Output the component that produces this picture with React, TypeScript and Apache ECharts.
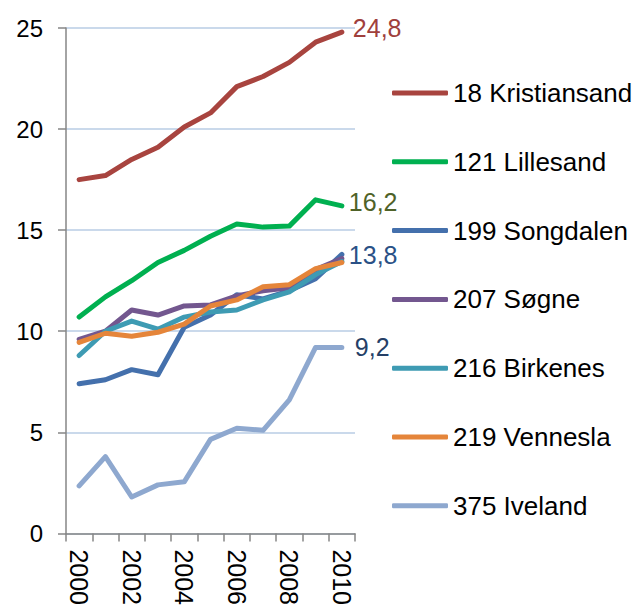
import React, { useEffect, useRef } from "react";
import * as echarts from "echarts";

const years = ["2000", "2001", "2002", "2003", "2004", "2005", "2006", "2007", "2008", "2009", "2010"];
const kristiansand = [17.5, 17.7, 18.5, 19.1, 20.1, 20.8, 22.1, 22.6, 23.3, 24.3, 24.8];
const lillesand = [10.7, 11.7, 12.5, 13.4, 14.0, 14.7, 15.3, 15.15, 15.2, 16.5, 16.2];
const songdalen = [7.4, 7.6, 8.1, 7.85, 10.2, 10.8, 11.8, 11.6, 12.0, 12.6, 13.8];
const sogne = [9.6, 10.0, 11.05, 10.8, 11.25, 11.3, 11.75, 12.0, 12.15, 13.05, 13.6];
const birkenes = [8.8, 10.0, 10.5, 10.1, 10.7, 10.95, 11.05, 11.55, 11.95, 12.8, 13.45];
const vennesla = [9.45, 9.9, 9.75, 9.95, 10.35, 11.25, 11.55, 12.2, 12.3, 13.1, 13.4];
const iveland = [2.35, 3.8, 1.8, 2.4, 2.55, 4.65, 5.2, 5.1, 6.6, 9.2, 9.2];
const seriesNames = ["18 Kristiansand", "121 Lillesand", "199 Songdalen", "207 Søgne", "216 Birkenes", "219 Vennesla", "375 Iveland"];
const yTicks = [0, 5, 10, 15, 20, 25];

const FONT = "'Liberation Sans', Arial, sans-serif";

export default function App() {
  const ref = useRef<HTMLDivElement>(null);
  useEffect(() => {
    if (!ref.current) return;
    const chart = echarts.init(ref.current, null, { renderer: "svg" });
    const dataSets = [kristiansand, lillesand, songdalen, sogne, birkenes, vennesla, iveland];
    const colors = ["#A8443F", "#00B050", "#4470AC", "#73578F", "#3E9BB3", "#E5853A", "#8EA8CF"];
    const endLabels: Record<number, { color: string; distance: number; dy: number }> = {
      0: { color: "#A0403C", distance: 11, dy: -4 },
      1: { color: "#4F6228", distance: 7, dy: -4 },
      2: { color: "#2A5186", distance: 7, dy: 1 },
      6: { color: "#253F66", distance: 13, dy: 0 },
    };
    const series = dataSets.map((d, i) => {
      const lab = endLabels[i];
      const last = d[d.length - 1];
      return {
        name: seriesNames[i],
        type: "line",
        data: d,
        symbol: "none",
        showSymbol: false,
        color: colors[i],
        lineStyle: { width: 5, color: colors[i], cap: "round", join: "round" },
        endLabel: lab
          ? {
              show: true,
              distance: lab.distance,
              offset: [0, lab.dy],
              formatter: () => String(last).replace(".", ","),
              color: lab.color,
              fontSize: 25,
              fontFamily: FONT,
            }
          : { show: false },
      };
    });
    chart.setOption({
      animation: false,
      backgroundColor: "#ffffff",
      grid: { left: 66, top: 28, width: 289, height: 506, containLabel: false },
      xAxis: {
        type: "category",
        data: years,
        boundaryGap: true,
        axisLine: { show: true, lineStyle: { color: "#868686", width: 1.5 } },
        axisTick: { show: true, interval: 0, length: 8, lineStyle: { color: "#868686", width: 1.5 } },
        axisLabel: { interval: 1, rotate: -90, margin: 16, color: "#000", fontSize: 25, fontFamily: FONT },
        splitLine: { show: false },
      },
      yAxis: {
        type: "value",
        min: yTicks[0],
        max: yTicks[yTicks.length - 1],
        interval: 5,
        axisLine: { show: true, lineStyle: { color: "#868686", width: 1.5 } },
        axisTick: { show: true, length: 8, lineStyle: { color: "#868686", width: 1.5 } },
        axisLabel: { margin: 23, color: "#000", fontSize: 24, fontFamily: FONT },
        splitLine: { show: true, lineStyle: { color: "#B9CDE5", width: 1.5 } },
      },
      legend: {
        orient: "vertical",
        left: 392,
        top: 80,
        padding: 0,
        itemWidth: 56,
        itemHeight: 5,
        itemGap: 42.8,
        data: seriesNames.map((n) => ({ name: n, icon: "roundRect" })),
        textStyle: { color: "#000", fontSize: 26, fontFamily: FONT, lineHeight: 26 },
      },
      series,
    });
    return () => chart.dispose();
  }, []);
  return (
    <div
      ref={ref}
      style={{ position: "fixed", left: 0, top: 0, width: 637, height: 608 }}
    />
  );
}
